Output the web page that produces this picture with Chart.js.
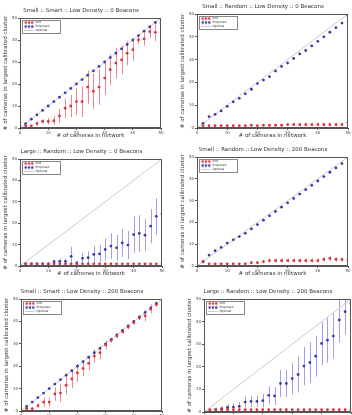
<!DOCTYPE html>
<html>
<head>
<meta charset="utf-8">
<script src="https://cdn.jsdelivr.net/npm/chart.js@4.4.1/dist/chart.umd.min.js"></script>
<style>
html, body { margin: 0; padding: 0; background: #fff; }
#wrap { position: relative; width: 352px; height: 415px; overflow: hidden; background: #fff; }
#wrap canvas { position: absolute; }
</style>
</head>
<body>
<div id="wrap"></div>
<script>
// valeurs (x = nombre de caméras)
const CAMS = [2, 4, 6, 8, 10, 12, 14, 16, 18, 20, 22, 24, 26, 28, 30, 32, 34, 36, 38, 40, 42, 44, 46, 48, 50];
const AXIS_TICKS = [0, 10, 20, 30, 40, 50];
const OPTIMAL_X = [0, 50];
const OPTIMAL_Y = [0, 50];
const LEGEND_LABELS = ['SfM', 'Proposed', 'Optimal'];
const TITLES = [
    'Small :: Smart :: Low Density :: 0 Beacons',
    'Small :: Random :: Low Density :: 0 Beacons',
    'Large :: Random :: Low Density :: 0 Beacons',
    'Small :: Random :: Low Density :: 200 Beacons',
    'Small :: Smart :: Low Density :: 200 Beacons',
    'Large :: Random :: Low Density :: 200 Beacons'
];
const X_LABEL = '# of cameras in network';
const Y_LABEL = '# of cameras in largest calibrated cluster';

// Small / Smart / 0 beacons
const SS0_SFM = [1, 1, 2, 3, 3, 3.3, 5.5, 9, 10, 12, 12, 18.6, 16.7, 18.6, 22.7, 26.5, 29.5, 31, 34, 35.6, 40, 40.5, 43.8, 43.5, 47.7];
const SS0_SFM_ERR = [0.5, 0.5, 1, 1, 1.5, 2, 3, 4.5, 5, 6, 7, 7.5, 8, 8, 7.5, 7, 7, 6.5, 5.5, 5, 2, 3, 3, 4, 1];
const SS0_OURS = [2, 4, 6, 8, 10, 12, 14, 16, 18, 20, 22, 24, 26, 28, 30, 32, 34, 36, 38, 40, 42, 44, 46, 48, 50];

// Small / Random / 0 beacons
const SR0_SFM = [1, 1, 1, 1, 1, 1, 1, 1, 1.2, 1, 1.2, 1.2, 1.2, 1.2, 1.5, 1.5, 1.5, 1.5, 1.5, 1.5, 1.5, 1.5, 1.5, 1.5, 2.5];
const SR0_SFM_ERR = [0, 0, 0, 0, 0, 0, 0, 0, 0.5, 0, 0.5, 0.5, 0.5, 0.5, 0.5, 0.8, 0.8, 0.8, 0.8, 0.8, 0.8, 0.8, 0.8, 0.8, 1.2];
const SR0_OURS = [2, 5, 6, 7.5, 9.5, 11.5, 13, 15, 17, 19.5, 21, 22.5, 25, 27, 28.5, 30.5, 32.5, 34, 36, 38, 40, 42, 44, 46, 49.5];

// Large / Random / 0 beacons
const LR0_SFM = [1, 1, 1, 1, 1, 1, 1, 1, 1, 1, 1, 1, 1, 1, 1, 1, 1, 1, 1, 1, 1, 1, 1, 1, 1];
const LR0_OURS = [1, 1, 1, 1, 1, 2, 2.2, 2.2, 4.5, 1.5, 3.6, 3.9, 5.4, 5.7, 7.7, 9.3, 8.5, 10.8, 9.8, 14.7, 15.2, 14.4, 18.6, 23.2, 24.3];
const LR0_OURS_ERR = [0, 0, 0, 0, 0, 1, 1.2, 1.2, 4.5, 0.8, 2.5, 3, 4, 4, 5, 6, 6, 6.5, 6.5, 8.5, 8.5, 7.5, 8, 8.5, 9];

// Small / Random / 200 beacons
const SR200_SFM = [2, 1, 1, 1, 1, 1, 1, 1, 1.5, 1.5, 2, 2.5, 2.5, 2.5, 2.5, 2.5, 2.5, 2.5, 2.5, 2.5, 3, 3.5, 3, 3, 3];
const SR200_SFM_ERR = [1, 0, 0, 0, 0, 0, 0, 0.5, 0.5, 0.5, 0.8, 1, 1, 1, 1, 1, 1, 1, 1, 1, 1, 1.2, 1, 1, 1];
const SR200_OURS = [2, 5, 7, 8.5, 10.5, 12, 13.5, 15, 17, 19, 21, 23, 25, 27, 29, 31, 33, 35, 37, 39, 41, 43, 45, 47, 49.5];

// Small / Smart / 200 beacons
const SS200_SFM = [1, 1, 2.4, 4, 4, 7.6, 8, 11.5, 14.3, 17, 19, 21.3, 24.5, 26, 29.5, 31.5, 33.5, 35.5, 37.5, 39.5, 41.5, 42.5, 45.5, 47.5, 50];
const SS200_SFM_ERR = [0.5, 0.5, 1, 2, 2, 3, 4, 4, 4, 4, 3.5, 3, 3, 3, 2, 1, 1, 1, 1, 1, 1, 2.5, 2, 1, 0];
const SS200_OURS = [2, 4, 6, 8, 10, 12, 14, 16, 18, 20, 22, 24, 26, 28, 30, 32, 34, 36, 38, 40, 42, 44, 46, 48, 50];

// Large / Random / 200 beacons
const LR200_SFM = [1, 1, 1, 1, 1, 1, 1, 1, 1, 1, 1, 1, 1, 1, 1, 1, 1, 1, 1, 1, 1, 1, 1, 1, 1];
const LR200_OURS = [0.5, 1, 1.5, 2, 2.2, 2.5, 4.4, 4.7, 4.7, 5, 7.4, 7.1, 12.6, 12.6, 14.8, 16.6, 20.3, 21.9, 24.7, 30.3, 31.8, 33.6, 40.7, 44.4, 48];
const LR200_OURS_ERR = [0.5, 1, 1, 1.5, 1.5, 2, 2.5, 2.5, 2.5, 3, 4, 4, 6, 6, 7, 8, 8.5, 9, 9, 9.5, 10, 10, 10, 10, 10];

const RED = '#e0303a';
const RED_ERR = 'rgba(235, 80, 95, 0.7)';
const BLUE = '#3a3aa8';
const BLUE_ERR = 'rgba(120, 120, 225, 0.7)';
const GRAY = '#cccccc';
const FRAME = '#555';

// position de la zone de tracé [gauche, haut, droite, bas]
const PANELS = [
    { title: TITLES[0], sfm: SS0_SFM, sfmErr: SS0_SFM_ERR, ours: SS0_OURS, oursErr: null, box: [20, 18, 162, 128] },
    { title: TITLES[1], sfm: SR0_SFM, sfmErr: SR0_SFM_ERR, ours: SR0_OURS, oursErr: null, box: [197, 14, 349, 128] },
    { title: TITLES[2], sfm: LR0_SFM, sfmErr: null, ours: LR0_OURS, oursErr: LR0_OURS_ERR, box: [20, 159, 163, 266] },
    { title: TITLES[3], sfm: SR200_SFM, sfmErr: SR200_SFM_ERR, ours: SR200_OURS, oursErr: null, box: [197, 157, 349, 266] },
    { title: TITLES[4], sfm: SS200_SFM, sfmErr: SS200_SFM_ERR, ours: SS200_OURS, oursErr: null, box: [21, 299, 163, 411] },
    { title: TITLES[5], sfm: LR200_SFM, sfmErr: null, ours: LR200_OURS, oursErr: LR200_OURS_ERR, box: [204, 299, 352, 412] }
];

Chart.defaults.font.family = "'DejaVu Sans', sans-serif";
Chart.defaults.color = '#333';

// petit symbole de légende à trois marqueurs (style matplotlib)
function makeGlyph(color) {
    const c = document.createElement('canvas');
    c.width = 10;
    c.height = 4;
    const g = c.getContext('2d');
    g.fillStyle = color;
    [1.7, 5, 8.3].forEach(cx => {
        g.beginPath();
        g.arc(cx, 2, 1.3, 0, Math.PI * 2);
        g.fill();
    });
    return c;
}
const GLYPHS = [makeGlyph(RED), makeGlyph(BLUE), 'line'];

// barres d'erreur verticales
const errorBars = {
    id: 'errorBars',
    beforeDatasetsDraw(chart) {
        const { ctx, chartArea, scales: { x, y } } = chart;
        ctx.save();
        ctx.beginPath();
        ctx.rect(chartArea.left, chartArea.top, chartArea.width, chartArea.height);
        ctx.clip();
        ctx.lineWidth = 1;
        chart.data.datasets.forEach(ds => {
            if (!ds.errs) return;
            ctx.strokeStyle = ds.errColor;
            ds.data.forEach((p, j) => {
                const e = ds.errs[j];
                if (!e) return;
                const px = Math.round(x.getPixelForValue(p.x)) + 0.5;
                ctx.beginPath();
                ctx.moveTo(px, y.getPixelForValue(p.y - e));
                ctx.lineTo(px, y.getPixelForValue(p.y + e));
                ctx.stroke();
            });
        });
        ctx.restore();
    }
};

// la légende 'chartArea' se colle en haut du canvas : on la redescend dans la zone de tracé
const legendInside = {
    id: 'legendInside',
    afterLayout(chart) {
        const lg = chart.legend;
        if (!lg) return;
        const dy = chart.chartArea.top + 2 - lg.top;
        const dx = chart.chartArea.left + 3 - lg.left;
        lg.top += dy; lg.bottom += dy;
        lg.left += dx; lg.right += dx;
    }
};

// cadre du graphe + cadre de la légende
const frames = {
    id: 'frames',
    afterDraw(chart) {
        const { ctx, chartArea } = chart;
        ctx.save();
        ctx.strokeStyle = FRAME;
        ctx.lineWidth = 1;
        ctx.strokeRect(Math.round(chartArea.left) + 0.5, Math.round(chartArea.top) + 0.5,
            Math.round(chartArea.width) - 1, Math.round(chartArea.height) - 1);
        const boxes = chart.legend.legendHitBoxes || [];
        const w = Math.max(34, ...boxes.map(b => b.width)) + 4;
        ctx.strokeStyle = '#888';
        ctx.strokeRect(Math.round(chartArea.left) + 2.5, Math.round(chartArea.top) + 2.5, Math.round(w), 13);
        ctx.restore();
    }
};

const wrap = document.getElementById('wrap');

PANELS.forEach(p => {
    const [L, T, R, B] = p.box;
    const left = L - 20;
    const top = T - 13;
    const cv = document.createElement('canvas');
    cv.width = R - left + 3;
    cv.height = B + 11 - top;
    cv.style.left = left + 'px';
    cv.style.top = top + 'px';
    wrap.appendChild(cv);

    const axis = (title, isY) => ({
        type: 'linear',
        min: 0,
        max: 50,
        afterBuildTicks: s => { s.ticks = AXIS_TICKS.map(v => ({ value: v })); },
        afterFit: s => { if (isY) s.width = 20; else s.height = 11; },
        grid: { display: true, drawOnChartArea: false, tickLength: 2, color: FRAME },
        border: { display: true, color: FRAME },
        ticks: { font: { size: 4 }, padding: 1, color: '#444', maxRotation: 0 },
        title: {
            display: true,
            text: title,
            font: { size: 5.5 },
            color: '#333',
            padding: isY ? { top: 2, bottom: 0 } : { top: 0, bottom: 0 }
        }
    });

    new Chart(cv, {
        type: 'scatter',
        data: {
            datasets: [
                {
                    label: LEGEND_LABELS[0],
                    data: CAMS.map((c, i) => ({ x: c, y: p.sfm[i] })),
                    errs: p.sfmErr,
                    errColor: RED_ERR,
                    backgroundColor: RED,
                    borderWidth: 0,
                    pointRadius: 1.4,
                    order: 1
                },
                {
                    label: LEGEND_LABELS[1],
                    data: CAMS.map((c, i) => ({ x: c, y: p.ours[i] })),
                    errs: p.oursErr,
                    errColor: BLUE_ERR,
                    backgroundColor: BLUE,
                    borderWidth: 0,
                    pointRadius: 1.4,
                    order: 2
                },
                {
                    type: 'line',
                    label: LEGEND_LABELS[2],
                    data: OPTIMAL_X.map((v, i) => ({ x: v, y: OPTIMAL_Y[i] })),
                    borderColor: GRAY,
                    backgroundColor: GRAY,
                    borderWidth: 1,
                    pointRadius: 0,
                    order: 3
                }
            ]
        },
        options: {
            responsive: false,
            animation: false,
            layout: { padding: { right: 3 } },
            scales: {
                x: axis(X_LABEL, false),
                y: axis(Y_LABEL, true)
            },
            plugins: {
                title: {
                    display: true,
                    text: p.title,
                    font: { size: 5.5, weight: 'normal' },
                    color: '#333',
                    padding: { top: 2, bottom: 4.4 }
                },
                legend: {
                    position: 'chartArea',
                    align: 'start',
                    labels: {
                        font: { size: 3 },
                        color: '#333',
                        usePointStyle: true,
                        pointStyleWidth: 10,
                        boxHeight: 3,
                        padding: 1,
                        generateLabels: chart => chart.data.datasets.map((ds, i) => ({
                            text: ds.label,
                            datasetIndex: i,
                            pointStyle: GLYPHS[i],
                            fillStyle: i === 2 ? GRAY : (i === 0 ? RED : BLUE),
                            strokeStyle: i === 2 ? GRAY : (i === 0 ? RED : BLUE),
                            lineWidth: i === 2 ? 1 : 0,
                            fontColor: '#333'
                        }))
                    }
                },
                tooltip: { enabled: false }
            }
        },
        plugins: [errorBars, legendInside, frames]
    });
});
</script>
</body>
</html>
